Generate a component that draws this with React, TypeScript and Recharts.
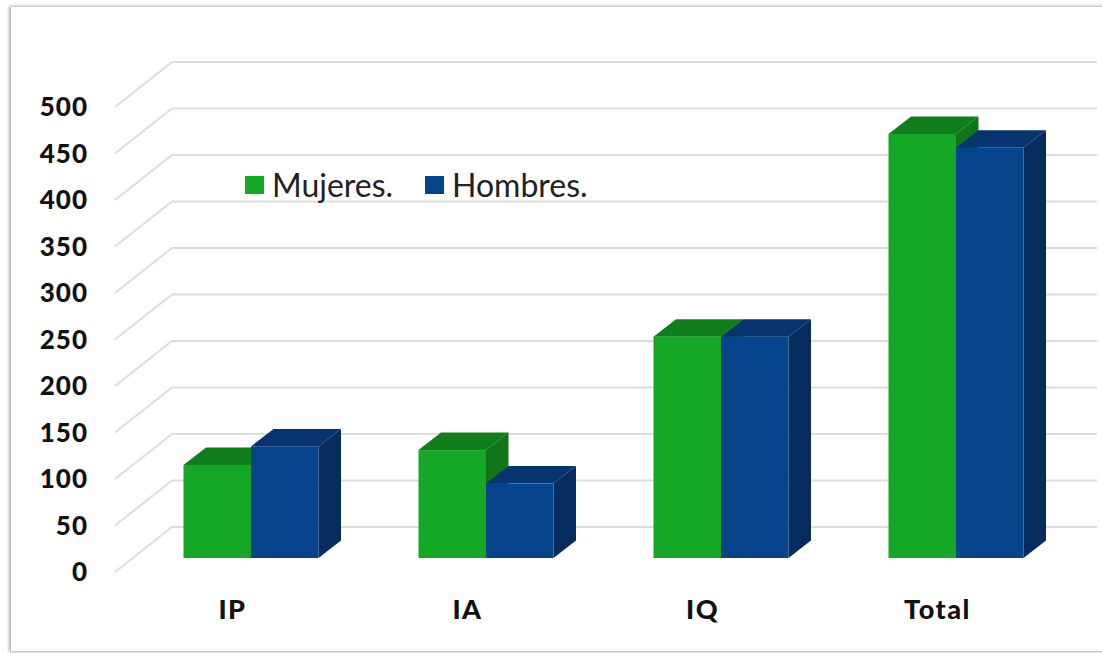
import React from 'react';
import { BarChart, Bar, CartesianGrid, Legend, XAxis, YAxis } from 'recharts';

const categories = ['IP', 'IA', 'IQ', 'Total'];
const mujeres = [100, 116, 238, 456];
const hombres = [120, 80, 238, 441];
const yTicks = [0, 50, 100, 150, 200, 250, 300, 350, 400, 450, 500];

const data = categories.map((name, i) => ({ name, mujeres: mujeres[i], hombres: hombres[i] }));

const FONT = 'Lato, sans-serif';
const GRID = '#dddddd';

// the bars stand a little way into the floor, the wall is at the back of it
const SHIFT_X = 18.5;
const SHIFT_Y = -14;
const DEPTH_X = 22.5;
const DEPTH_Y = -17.5;
const WALL_X = 57;
const WALL_Y = -45;

const Box = ({ x, y, width, height, fill, top, side }: any) => {
  const l = x + SHIFT_X;
  const r = l + width;
  const t = y + SHIFT_Y;
  const b = t + height;
  return (
    <g>
      <polygon
        points={`${l},${t} ${r},${t} ${r + DEPTH_X},${t + DEPTH_Y} ${l + DEPTH_X},${t + DEPTH_Y}`}
        fill={top}
      />
      <polygon
        points={`${r},${t} ${r + DEPTH_X},${t + DEPTH_Y} ${r + DEPTH_X},${b + DEPTH_Y} ${r},${b}`}
        fill={side}
      />
      <rect x={l} y={t} width={width} height={height} fill={fill} />
    </g>
  );
};

const GridLine = ({ x1, x2, y1 }: any) => (
  <polyline
    points={`${x1},${y1} ${x1 + WALL_X},${y1 + WALL_Y} ${x2 + 42},${y1 + WALL_Y}`}
    fill="none"
    stroke={GRID}
    strokeWidth={2}
  />
);

const LegendContent = ({ payload }: any) => (
  <div style={{ display: 'flex', fontFamily: FONT, fontSize: 32, color: '#222', lineHeight: '40px' }}>
    {(payload || []).map((p: any) => (
      <div key={p.value} style={{ display: 'flex', alignItems: 'center', width: 180 }}>
        <span style={{ width: 19, height: 18, background: p.color, marginRight: 8 }} />
        {p.value}
      </div>
    ))}
  </div>
);

export default function App() {
  return (
    <div style={{ position: 'absolute', left: 0, top: 0, width: 1102, height: 653, background: '#fff', overflow: 'hidden' }}>
      <div
        style={{
          position: 'absolute',
          left: 11,
          top: 7,
          width: 1120,
          height: 644,
          boxShadow: '-1px 0 3px 1px #b5b5b5, 0 0 2px 1px #e8e8e8',
        }}
      />
      <div style={{ position: 'absolute', left: 0, top: 0 }}>
        <BarChart
          width={1102}
          height={653}
          data={data}
          barSize={67.5}
          barGap={0}
          margin={{ top: 107, right: 47, bottom: 41, left: 0 }}
        >
          <CartesianGrid vertical={false} horizontal={(p: any) => <GridLine key={p.key} {...p} />} />
          <XAxis
            dataKey="name"
            height={40}
            axisLine={false}
            tickLine={false}
            tickSize={0}
            tickMargin={28}
            interval={0}
            tick={{ fill: '#111', fontSize: 27, fontWeight: 900, fontFamily: FONT, letterSpacing: 1.5 }}
          />
          <YAxis
            width={115}
            domain={[0, 500]}
            ticks={yTicks}
            interval={0}
            axisLine={false}
            tickLine={false}
            tickSize={0}
            tickMargin={27}
            tick={{ fill: '#111', fontSize: 26, fontWeight: 900, fontFamily: FONT, letterSpacing: 1 }}
          />
          <Legend
            layout="horizontal"
            align="center"
            verticalAlign="middle"
            width={400}
            itemSorter={null}
            wrapperStyle={{ left: 245, top: 165 }}
            content={<LegendContent />}
          />
          <Bar
            dataKey="mujeres"
            name="Mujeres."
            fill="#15a827"
            isAnimationActive={false}
            shape={(p: any) => <Box {...p} fill="#15a827" top="#107f1b" side="#107518" />}
          />
          <Bar
            dataKey="hombres"
            name="Hombres."
            fill="#05438a"
            isAnimationActive={false}
            shape={(p: any) => <Box {...p} fill="#05438a" top="#05346e" side="#062b5d" />}
          />
        </BarChart>
      </div>
    </div>
  );
}
